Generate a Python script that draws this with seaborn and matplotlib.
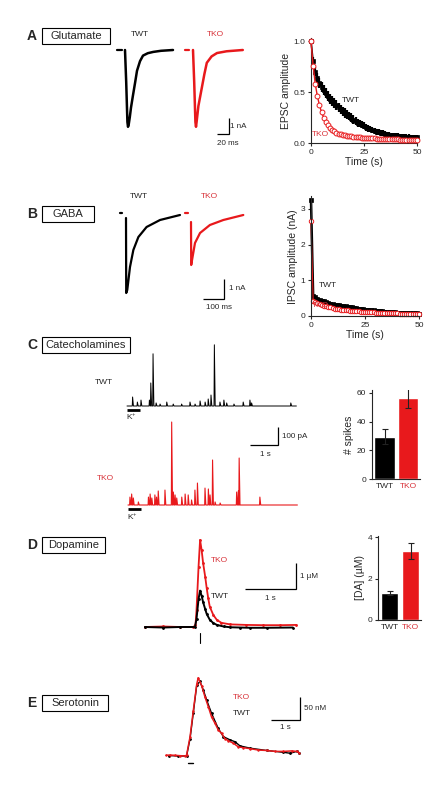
import numpy as np
import pandas as pd
import matplotlib
matplotlib.use("Agg")
import matplotlib.pyplot as plt
from matplotlib.patches import Rectangle
import seaborn as sns

# ---------------- data ----------------
genotypes = ["TWT", "TKO"]

# A: example glutamatergic EPSCs (ms, nA)
glu_twt_ms = [0, 2, 4, 5, 6, 8, 10, 13, 17, 20, 25, 30, 38, 47, 60, 80]
glu_twt_nA = [0, -2.0, -4.5, -4.8, -4.7, -4.2, -3.6, -2.9, -2.0, -1.3, -0.7, -0.35, -0.2, -0.12, -0.05, 0]
glu_tko_ms = [0, 2, 4, 5, 6, 9, 12, 15, 19, 23, 31, 40, 56, 83]
glu_tko_nA = [0, -2.0, -4.5, -4.8, -4.5, -3.5, -2.9, -2.3, -1.5, -0.8, -0.4, -0.19, -0.08, 0]
glu_twt_stim_ms = [-13, -5]
glu_tko_stim_ms = [-13, -7]

# A right: normalised EPSC amplitude during the train (s)
train_s = list(range(51))
glu_twt_amp = [1.00, 0.80, 0.70, 0.64, 0.59, 0.55, 0.52, 0.49, 0.46, 0.43,
               0.41, 0.39, 0.37, 0.35, 0.33, 0.31, 0.295, 0.28, 0.265, 0.25,
               0.23, 0.215, 0.20, 0.19, 0.18, 0.17, 0.155, 0.145, 0.135, 0.125,
               0.12, 0.11, 0.105, 0.10, 0.095, 0.09, 0.085, 0.08, 0.078, 0.075,
               0.072, 0.07, 0.068, 0.066, 0.064, 0.062, 0.06, 0.058, 0.056, 0.055,
               0.054]
glu_twt_sem = [0.0, 0.04, 0.045, 0.05, 0.05, 0.05, 0.05, 0.05, 0.05, 0.05,
               0.05, 0.05, 0.05, 0.045, 0.045, 0.045, 0.045, 0.04, 0.04, 0.04,
               0.04, 0.04, 0.04, 0.035, 0.035, 0.035, 0.035, 0.035, 0.03, 0.03,
               0.03, 0.03, 0.03, 0.03, 0.03, 0.03, 0.025, 0.025, 0.025, 0.025,
               0.025, 0.025, 0.025, 0.025, 0.025, 0.025, 0.025, 0.025, 0.025, 0.025,
               0.025]
glu_tko_amp = [1.00, 0.76, 0.58, 0.46, 0.37, 0.30, 0.25, 0.21, 0.175, 0.15,
               0.13, 0.115, 0.10, 0.09, 0.085, 0.08, 0.075, 0.07, 0.067, 0.064,
               0.061, 0.058, 0.056, 0.054, 0.052, 0.05, 0.049, 0.048, 0.047, 0.046,
               0.045, 0.044, 0.043, 0.042, 0.041, 0.04, 0.039, 0.038, 0.037, 0.036,
               0.035, 0.035, 0.034, 0.034, 0.033, 0.033, 0.032, 0.032, 0.031, 0.031,
               0.03]

# B: example GABAergic IPSCs (ms, nA)
gaba_twt_ms = [0, 1, 6, 19, 35, 59, 98, 162, 257]
gaba_twt_nA = [-0.25, -4.0, -3.85, -2.7, -1.85, -1.2, -0.7, -0.35, -0.1]
gaba_tko_ms = [0, 1, 5, 19, 43, 90, 154, 249]
gaba_tko_nA = [-0.45, -2.6, -2.35, -1.5, -1.0, -0.6, -0.35, -0.1]
gaba_twt_stim_ms = [-28, -17]
gaba_tko_stim_ms = [-28, -14]

# B right: IPSC amplitude during the train (nA)
gaba_twt_amp = [3.25, 0.56, 0.52, 0.49, 0.46, 0.43, 0.41, 0.39, 0.37, 0.35,
                0.33, 0.32, 0.31, 0.30, 0.29, 0.28, 0.27, 0.26, 0.25, 0.24,
                0.23, 0.22, 0.21, 0.20, 0.19, 0.18, 0.175, 0.17, 0.16, 0.155,
                0.15, 0.145, 0.14, 0.13, 0.125, 0.12, 0.115, 0.11, 0.105, 0.10,
                0.095, 0.092, 0.09, 0.087, 0.085, 0.082, 0.08, 0.078, 0.075, 0.072,
                0.07]
gaba_tko_amp = [2.65, 0.42, 0.39, 0.36, 0.33, 0.31, 0.29, 0.27, 0.25, 0.24,
                0.22, 0.21, 0.20, 0.19, 0.18, 0.17, 0.165, 0.155, 0.15, 0.145,
                0.14, 0.135, 0.13, 0.125, 0.12, 0.115, 0.11, 0.107, 0.104, 0.101,
                0.098, 0.095, 0.092, 0.089, 0.086, 0.083, 0.08, 0.078, 0.076, 0.074,
                0.072, 0.07, 0.068, 0.066, 0.064, 0.062, 0.06, 0.058, 0.056, 0.054,
                0.052]

# C: amperometric spikes (time s, amplitude pA)
cat_twt_spike_s = [0.20, 0.37, 0.50, 0.80, 0.85, 0.93, 1.04, 1.18, 1.42, 1.65, 1.95, 2.25, 2.43,
                   2.61, 2.79, 2.90, 3.00, 3.12, 3.32, 3.46, 3.56, 3.82, 4.15, 4.39, 4.45, 5.85]
cat_twt_spike_pA = [50, 22, 33, 33, 128, 290, 17, 11, 22, 11, 11, 22, 11,
                    28, 22, 39, 61, 340, 22, 33, 17, 11, 22, 33, 17, 17]
cat_tko_spike_s = [0.07, 0.13, 0.19, 0.37, 0.73, 0.79, 0.85, 0.96, 1.02, 1.08, 1.32, 1.56, 1.62,
                   1.68, 1.74, 1.92, 2.04, 2.15, 2.27, 2.39, 2.48, 2.75, 2.87, 2.93, 3.02, 3.11,
                   3.29, 3.88, 3.94, 3.97, 4.71]
cat_tko_spike_pA = [44, 61, 39, 17, 44, 61, 39, 56, 44, 78, 83, 461, 72,
                    56, 39, 44, 61, 56, 28, 83, 122, 94, 89, 56, 250, 17,
                    11, 72, 78, 261, 44]
cat_duration_s = 6.05
k_bar_s = [0.0, 0.45]
spikes_mean = [29.5, 56.5]
spikes_sem = [5.0, 7.0]

# D: dopamine transients (s, uM)
dopa_tko_s = [0, 0.36, 0.69, 0.95, 0.99, 1.01, 1.05, 1.08, 1.11, 1.14, 1.18, 1.21, 1.24, 1.27,
              1.34, 1.41, 1.50, 1.67, 1.99, 2.32, 2.65, 2.97]
dopa_tko_uM = [0.0, 0.02, 0.0, 0.0, 0.08, 0.65, 2.32, 3.35, 2.96, 2.45, 1.94, 1.49, 1.10, 0.78,
               0.46, 0.27, 0.16, 0.10, 0.08, 0.07, 0.07, 0.08]
dopa_twt_s = [0, 0.36, 0.69, 0.98, 1.01, 1.05, 1.08, 1.11, 1.14, 1.18, 1.21, 1.27, 1.34, 1.41,
              1.54, 1.67, 1.86, 2.06, 2.40, 2.90]
dopa_twt_uM = [0.0, -0.02, 0.0, 0.0, 0.31, 1.08, 1.40, 1.20, 0.95, 0.69, 0.50, 0.28, 0.15, 0.08,
               0.02, -0.01, -0.02, -0.03, -0.03, -0.02]
dopa_stim_s = 1.08
da_mean = [1.3, 3.33]
da_sem = [0.08, 0.38]

# E: serotonin transients (s, nM)
sero_tko_s = [0, 0.14, 0.31, 0.48, 0.66, 0.71, 0.83, 0.94, 1.06, 1.11, 1.23, 1.34, 1.46, 1.57, 1.69,
              1.80, 1.92, 2.03, 2.15, 2.32, 2.49, 2.67, 2.90, 3.18, 3.47, 3.76, 4.05, 4.33, 4.51, 4.60]
sero_tko_nM = [1.5, 2, 1.5, 0.7, 0, 2, 42, 98, 156, 170, 153, 129, 107, 85, 71,
               57, 49, 38, 33, 28, 20, 18, 16, 13, 12, 10, 10, 11, 10, 7]
sero_twt_s = [0.1, 0.4, 0.71, 0.83, 0.94, 1.06, 1.17, 1.29, 1.40, 1.57, 1.80, 1.98, 2.21, 2.38,
              2.55, 2.90, 3.47, 4.05, 4.28, 4.51, 4.60]
sero_twt_nM = [1, 0, 0, 38, 93, 154, 162, 143, 122, 93, 60, 42, 35, 31,
               22, 17, 12, 8, 6, 10, 6]
sero_stim_s = [0.76, 0.93]

# ---------------- style ----------------
sns.set_style("ticks")
plt.rcParams['font.family'] = ['Liberation Sans', 'DejaVu Sans']
plt.rcParams['mathtext.fontset'] = 'custom'
plt.rcParams['mathtext.rm'] = 'Liberation Sans'
plt.rcParams['mathtext.it'] = 'Liberation Sans:italic'
plt.rcParams['axes.linewidth'] = 0.8

BLACK = "black"
RED = "#e8191c"
RED_TXT = "#d8333a"
pal = {"TWT": BLACK, "TKO": RED}

W, H = 435, 787
fig = plt.figure(figsize=(W / 100, H / 100), dpi=100)


def px_axes(left, top, width, height):
    return fig.add_axes([left / W, 1 - (top + height) / H, width / W, height / H])


def trace_axes(x0, y0, sx, sy, xlim, ylim):
    ax = px_axes(x0 + xlim[0] * sx, y0 - ylim[1] * sy,
                 (xlim[1] - xlim[0]) * sx, (ylim[1] - ylim[0]) * sy)
    ax.set_xlim(*xlim)
    ax.set_ylim(*ylim)
    ax.axis("off")
    return ax


def trace(ax, t, v, color, lw=1.4, **kw):
    sns.lineplot(x=t, y=v, ax=ax, color=color, lw=lw, estimator=None, sort=False,
                 legend=False, **kw)


def noclip(ax):
    for a in list(ax.lines) + list(ax.collections):
        a.set_clip_on(False)


def scalebar(ax, x_end, y_base, dx, dy, lw=0.9):
    ax.plot([x_end - dx, x_end, x_end], [y_base, y_base, y_base + dy], color=BLACK,
            lw=lw, clip_on=False, solid_joinstyle="miter", solid_capstyle="butt")


def header(letter, yc, label, right):
    fig.text(27 / W, 1 - yc / H, letter, fontsize=10, fontweight="bold", va="center", ha="left")
    fig.add_artist(Rectangle((42 / W, 1 - (yc + 8) / H), (right - 42) / W, 16 / H,
                             transform=fig.transFigure, fill=False, lw=0.8, ec=BLACK))
    fig.text((42 + right) / 2 / W, 1 - yc / H, label, fontsize=8, ha="center", va="center")


def style_axes(ax, fs=6):
    sns.despine(ax=ax)
    ax.tick_params(labelsize=fs, length=2.5, width=0.8, pad=1.5)


TS = 6  # small text

# ---------------- headers ----------------
header("A", 36, "Glutamate", 110)
header("B", 214, "GABA", 94)
header("C", 345, "Catecholamines", 130)
header("D", 545, "Dopamine", 105)
header("E", 703, "Serotonin", 108)

# ---------------- A traces ----------------
ax = trace_axes(125, 50, 0.6, 16, (-15, 60), (-5.2, 1.0))
trace(ax, glu_twt_ms, glu_twt_nA, BLACK, lw=1.8)
ax.plot(glu_twt_stim_ms, [0, 0], color=BLACK, lw=1.6)
ax.text(25, 0.94, "TWT", fontsize=TS, ha="center", va="center")
noclip(ax)

ax = trace_axes(193, 50, 0.6, 16, (-15, 60), (-5.2, 1.0))
trace(ax, glu_tko_ms, glu_tko_nA, RED, lw=1.8)
ax.plot(glu_tko_stim_ms, [0, 0], color=RED, lw=1.6)
ax.text(36.7, 0.94, "TKO", fontsize=TS, ha="center", va="center", color=RED_TXT)
scalebar(ax, 60, -5.25, 20, 1)
ax.text(62, -4.75, "1 nA", fontsize=5.8, va="center", ha="left")
ax.text(58, -5.85, "20 ms", fontsize=5.8, va="center", ha="center")
noclip(ax)

# ---------------- A right ----------------
ax = px_axes(311, 38, 106, 105)
ax.errorbar(train_s, glu_twt_amp, yerr=glu_twt_sem, fmt="none", ecolor=BLACK,
            elinewidth=1.6, zorder=1.5)
sns.lineplot(x=train_s, y=glu_twt_amp, ax=ax, color=BLACK, lw=1.2, marker="s", markersize=3.2,
             markerfacecolor=BLACK, markeredgecolor=BLACK, markeredgewidth=0.5,
             estimator=None, legend=False, zorder=2)
sns.lineplot(x=train_s, y=glu_tko_amp, ax=ax, color=RED, lw=1.0, marker="o", markersize=3.5,
             markerfacecolor="white", markeredgecolor=RED, markeredgewidth=0.7,
             estimator=None, legend=False, zorder=3)
ax.set_xlim(0, 50)
ax.set_ylim(0, 1.03)
ax.set_xticks([0, 25, 50])
ax.set_yticks([0, 0.5, 1.0])
ax.set_yticklabels(["0.0", "0.5", "1.0"])
ax.set_xlabel("Time (s)", fontsize=7.5, labelpad=1)
ax.set_ylabel("EPSC amplitude", fontsize=7.5, labelpad=2)
ax.text(14.5, 0.42, "TWT", fontsize=TS, va="center")
ax.text(0.3, 0.085, "TKO", fontsize=TS, va="center", color=RED_TXT)
style_axes(ax)
noclip(ax)

# ---------------- B traces ----------------
ax = trace_axes(126, 213, 0.21, 20, (-40, 270), (-4.5, 1.0))
trace(ax, gaba_twt_ms, gaba_twt_nA, BLACK, lw=1.6)
ax.plot(gaba_twt_stim_ms, [0, 0], color=BLACK, lw=1.6)
ax.text(62, 0.8, "TWT", fontsize=TS, ha="center", va="center")
noclip(ax)

ax = trace_axes(191, 213, 0.21, 20, (-40, 270), (-4.5, 1.0))
trace(ax, gaba_tko_ms, gaba_tko_nA, RED, lw=1.6)
ax.plot(gaba_tko_stim_ms, [0, 0], color=RED, lw=1.6)
ax.text(86, 0.8, "TKO", fontsize=TS, ha="center", va="center", color=RED_TXT)
scalebar(ax, 157, -4.3, 100, 1)
ax.text(180, -3.8, "1 nA", fontsize=5.8, va="center", ha="left")
ax.text(133, -4.75, "100 ms", fontsize=5.8, va="center", ha="center")
noclip(ax)

# ---------------- B right ----------------
ax = px_axes(311, 196.4, 108, 119.6)
sns.lineplot(x=train_s, y=gaba_twt_amp, ax=ax, color=BLACK, lw=1.8, marker="s", markersize=3.2,
             markerfacecolor=BLACK, markeredgecolor=BLACK, markeredgewidth=0.5,
             estimator=None, legend=False)
sns.lineplot(x=train_s, y=gaba_tko_amp, ax=ax, color=RED, lw=0.8, marker="o", markersize=3.2,
             markerfacecolor="white", markeredgecolor=RED, markeredgewidth=0.7,
             estimator=None, legend=False)
ax.set_xlim(0, 50)
ax.set_ylim(0, 3.35)
ax.set_xticks([0, 25, 50])
ax.set_yticks([0, 1, 2, 3])
ax.set_xlabel("Time (s)", fontsize=7.5, labelpad=1)
ax.set_ylabel("IPSC amplitude (nA)", fontsize=7.5, labelpad=2)
ax.text(3.5, 0.85, "TWT", fontsize=TS, va="center")
ax.text(0.3, 0.3, "TKO", fontsize=TS, va="center", color=RED_TXT)
style_axes(ax)
noclip(ax)


# ---------------- C traces ----------------
def spike_trace(times, amps, dur, width=0.012):
    t, v = [0.0], [0.0]
    for s, a in sorted(zip(times, amps)):
        t += [s - width, s, s + width * 2.5]
        v += [0.0, a, 0.0]
    t.append(dur)
    v.append(0.0)
    return t, v


ax = trace_axes(127, 406, 28, 0.18, (-1.2, 6.2), (-100, 360))
t, v = spike_trace(cat_twt_spike_s, cat_twt_spike_pA, cat_duration_s)
trace(ax, t, v, BLACK, lw=0.7)
ax.plot(k_bar_s, [-22, -22], color=BLACK, lw=2.0, solid_capstyle="butt")
ax.text(0.14, -62, r"K$^{+}$", fontsize=6, ha="center", va="center")
ax.text(-0.82, 128, "TWT", fontsize=TS, ha="center", va="center")
noclip(ax)

ax = trace_axes(128, 505, 28, 0.18, (-1.2, 6.2), (-100, 470))
t, v = spike_trace(cat_tko_spike_s, cat_tko_spike_pA, cat_duration_s)
trace(ax, t, v, RED, lw=0.8)
ax.plot(k_bar_s, [-22, -22], color=BLACK, lw=2.0, solid_capstyle="butt")
ax.text(0.14, -67, r"K$^{+}$", fontsize=6, ha="center", va="center")
ax.text(-0.79, 150, "TKO", fontsize=TS, ha="center", va="center", color=RED_TXT)
scalebar(ax, 5.36, 333, 1, 100)
ax.text(5.5, 378, "100 pA", fontsize=5.8, va="center", ha="left")
ax.text(4.9, 278, "1 s", fontsize=5.8, va="center", ha="center")
noclip(ax)

# ---------------- C bars ----------------
df_c = pd.DataFrame({"genotype": genotypes, "spikes": spikes_mean})
ax = px_axes(372, 390, 48, 89)
sns.barplot(data=df_c, x="genotype", y="spikes", hue="genotype", palette=pal, ax=ax,
            width=0.85, errorbar=None, legend=False, saturation=1)
ax.errorbar(x=[0, 1], y=spikes_mean, yerr=spikes_sem, fmt="none", ecolor="#222222",
            elinewidth=0.8, capsize=2.5, capthick=0.8)
ax.set_xlim(-0.53, 1.5)
ax.set_ylim(0, 62)
ax.set_yticks([0, 20, 40, 60])
ax.set_xlabel("")
ax.set_ylabel("# spikes", fontsize=7.5, labelpad=2)
style_axes(ax)
ax.tick_params(axis="x", length=0, pad=3)
ax.get_xticklabels()[1].set_color(RED_TXT)

# ---------------- D traces ----------------
ax = trace_axes(145, 627, 51, 26, (-0.1, 3.2), (-0.7, 3.6))
trace(ax, dopa_tko_s, dopa_tko_uM, RED, lw=1.3, marker=".", markersize=2.5,
      markeredgecolor=RED)
trace(ax, dopa_twt_s, dopa_twt_uM, BLACK, lw=1.4, marker=".", markersize=2.5,
      markeredgecolor=BLACK)
ax.plot([dopa_stim_s, dopa_stim_s], [-0.25, -0.6], color=BLACK, lw=0.8)
ax.text(1.45, 2.54, "TKO", fontsize=TS, ha="center", va="center", color=RED_TXT)
ax.text(1.47, 1.19, "TWT", fontsize=TS, ha="center", va="center")
scalebar(ax, 2.96, 1.46, 1, 1)
ax.text(3.04, 1.96, "1 µM", fontsize=5.8, va="center", ha="left")
ax.text(2.45, 1.08, "1 s", fontsize=5.8, va="center", ha="center")
noclip(ax)

# ---------------- D bars ----------------
df_d = pd.DataFrame({"genotype": genotypes, "DA": da_mean})
ax = px_axes(378, 536, 43, 84)
sns.barplot(data=df_d, x="genotype", y="DA", hue="genotype", palette=pal, ax=ax,
            width=0.85, errorbar=None, legend=False, saturation=1)
ax.errorbar(x=[0, 1], y=da_mean, yerr=da_sem, fmt="none", ecolor="#222222",
            elinewidth=0.8, capsize=2.5, capthick=0.8)
ax.set_xlim(-0.55, 1.5)
ax.set_ylim(0, 4.05)
ax.set_yticks([0, 2, 4])
ax.set_xlabel("")
ax.set_ylabel("[DA] (µM)", fontsize=7.5, labelpad=2)
style_axes(ax)
ax.tick_params(axis="x", length=0, pad=3)
ax.get_xticklabels()[1].set_color(RED_TXT)

# ---------------- E traces ----------------
ax = trace_axes(166, 756, 29, 0.46, (-0.1, 4.8), (-30, 180))
trace(ax, sero_twt_s, sero_twt_nM, BLACK, lw=1.0, marker=".", markersize=2.5,
      markeredgecolor=BLACK)
trace(ax, sero_tko_s, sero_tko_nM, RED, lw=1.1, marker=".", markersize=2.0,
      markeredgecolor=RED)
ax.plot(sero_stim_s, [-15, -15], color=BLACK, lw=1.0)
ax.text(2.59, 128, "TKO", fontsize=TS, ha="center", va="center", color=RED_TXT)
ax.text(2.62, 93, "TWT", fontsize=TS, ha="center", va="center")
scalebar(ax, 4.62, 78, 1, 50)
ax.text(4.76, 104, "50 nM", fontsize=5.8, va="center", ha="left")
ax.text(4.1, 61, "1 s", fontsize=5.8, va="center", ha="center")
noclip(ax)

fig.savefig("out.png", dpi=100)
